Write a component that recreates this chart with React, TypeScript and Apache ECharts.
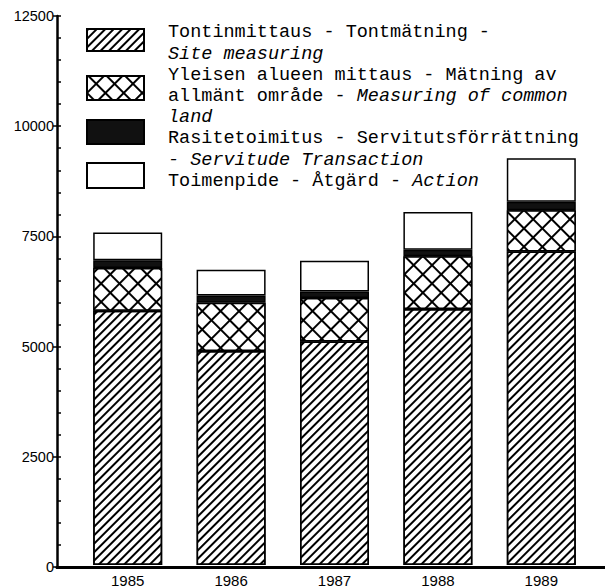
import React, { useEffect, useRef } from "react";
import * as echarts from "echarts";

const years = ["1985", "1986", "1987", "1988", "1989"];
const siteMeasuring = [5790, 4870, 5090, 5830, 7140];
const commonLand = [970, 1100, 990, 1200, 940];
const servitude = [180, 165, 145, 150, 190];
const action = [630, 585, 705, 860, 990];
const yMax = 12500;
const yInterval = 2500;
const yMinorInterval = 500;

const names = [
  "Tontinmittaus",
  "Yleisen alueen mittaus",
  "Rasitetoimitus",
  "Toimenpide",
];

const legendLines = [
  "{n|Tontinmittaus - Tontmätning -}",
  "{i|Site measuring}",
  "{n|Yleisen alueen mittaus - Mätning av}",
  "{n|allmänt område - }{i|Measuring of common}",
  "{i|land}",
  "{n|Rasitetoimitus - Servitutsförrättning}",
  "{i|- Servitude Transaction}",
  "{n|Toimenpide - Åtgärd - }{i|Action}",
];

export default function App() {
  const ref = useRef<HTMLDivElement>(null);
  useEffect(() => {
    if (!ref.current) return;
    const chart = echarts.init(ref.current, null, { renderer: "svg" });
    const numFont = "Liberation Sans, Arial, sans-serif";
    const monoFont = "Liberation Mono, Courier New, monospace";
    const hatch = {
      symbol: "rect",
      color: "#000",
      dashArrayX: [1, 0],
      dashArrayY: [1.2, 3.7],
      rotation: -Math.PI / 4,
    };
    const cross = {
      symbol: "rect",
      color: "#fff",
      dashArrayX: [10.5, 1.6],
      dashArrayY: [10.5, 1.6],
      rotation: Math.PI / 4,
    };
    const legendBase = {
      icon: "rect",
      itemWidth: 57,
      formatter: () => "",
      selectedMode: false,
      left: 86,
      itemStyle: { borderColor: "#000", borderWidth: 2 },
      padding: 0,
    };
    chart.setOption({
      animation: false,
      backgroundColor: "#fff",
      grid: [
        { left: 57, right: 0, top: 16, bottom: 21 },
        { left: 76, right: 12, top: 16, bottom: 21 },
      ],
      legend: [
        { ...legendBase, data: [names[0]], top: 28, itemHeight: 22 },
        { ...legendBase, data: [names[1]], top: 75, itemHeight: 24 },
        { ...legendBase, data: [names[2]], top: 119, itemHeight: 24 },
        { ...legendBase, data: [names[3]], top: 162, itemHeight: 25 },
      ],
      xAxis: [
        {
          type: "value",
          gridIndex: 0,
          position: "bottom",
          min: 0,
          max: 1,
          axisLine: { show: true, lineStyle: { color: "#000", width: 3 } },
          axisTick: { show: false },
          axisLabel: { show: false },
          splitLine: { show: false },
        },
        {
          type: "value",
          gridIndex: 0,
          position: "top",
          min: 0,
          max: 1,
          axisLine: { show: true, lineStyle: { color: "#000", width: 2.5 } },
          axisTick: { show: false },
          axisLabel: { show: false },
          splitLine: { show: false },
        },
        {
          type: "category",
          gridIndex: 1,
          data: years,
          axisLine: { show: false },
          axisTick: { show: false },
          axisLabel: {
            color: "#000",
            fontFamily: numFont,
            fontSize: 15,
            margin: 8,
          },
        },
      ],
      yAxis: [
        {
          type: "value",
          gridIndex: 0,
          position: "left",
          min: 0,
          max: yMax,
          interval: yInterval,
          axisLine: { show: true, lineStyle: { color: "#000", width: 2.5 } },
          axisTick: { show: true, inside: false, length: 4, lineStyle: { color: "#000", width: 1.5 } },
          axisLabel: {
            color: "#000",
            fontFamily: numFont,
            fontSize: 14.5,
            margin: 3,
            formatter: (v: number) => String(v),
          },
          splitLine: { show: false },
        },
        {
          type: "value",
          gridIndex: 0,
          position: "left",
          min: 0,
          max: yMax,
          interval: yMinorInterval,
          axisLine: { show: false },
          axisTick: { show: true, inside: true, length: 4, lineStyle: { color: "#000", width: 1.5 } },
          axisLabel: { show: false },
          splitLine: { show: false },
        },
        {
          type: "value",
          gridIndex: 1,
          min: 0,
          max: yMax,
          interval: yInterval,
          show: false,
        },
      ],
      series: [
        {
          name: names[0],
          type: "bar",
          stack: "t",
          xAxisIndex: 2,
          yAxisIndex: 2,
          barWidth: 69,
          data: siteMeasuring,
          itemStyle: { color: "#fff", borderColor: "#000", borderWidth: 1.5, decal: hatch },
        },
        {
          name: names[1],
          type: "bar",
          stack: "t",
          xAxisIndex: 2,
          yAxisIndex: 2,
          barWidth: 69,
          data: commonLand,
          itemStyle: { color: "#000", borderColor: "#000", borderWidth: 1.5, decal: cross },
        },
        {
          name: names[2],
          type: "bar",
          stack: "t",
          xAxisIndex: 2,
          yAxisIndex: 2,
          barWidth: 69,
          data: servitude,
          itemStyle: { color: "#111", borderColor: "#000", borderWidth: 1.5 },
        },
        {
          name: names[3],
          type: "bar",
          stack: "t",
          xAxisIndex: 2,
          yAxisIndex: 2,
          barWidth: 69,
          data: action,
          itemStyle: { color: "#fff", borderColor: "#000", borderWidth: 1.5 },
        },
      ],
      graphic: [
        {
          type: "text",
          left: 168,
          top: 23.4,
          z: 100,
          style: {
            text: legendLines.join("\n"),
            fill: "#000",
            rich: {
              n: { fontFamily: monoFont, fontSize: 18.5, lineHeight: 21.2, fill: "#000" },
              i: { fontFamily: monoFont, fontSize: 18.5, lineHeight: 21.2, fontStyle: "italic", fill: "#000" },
            },
          },
        },
      ],
    });
    return () => chart.dispose();
  }, []);
  return <div ref={ref} style={{ width: 605, height: 588, position: "absolute", left: 0, top: 0 }} />;
}
